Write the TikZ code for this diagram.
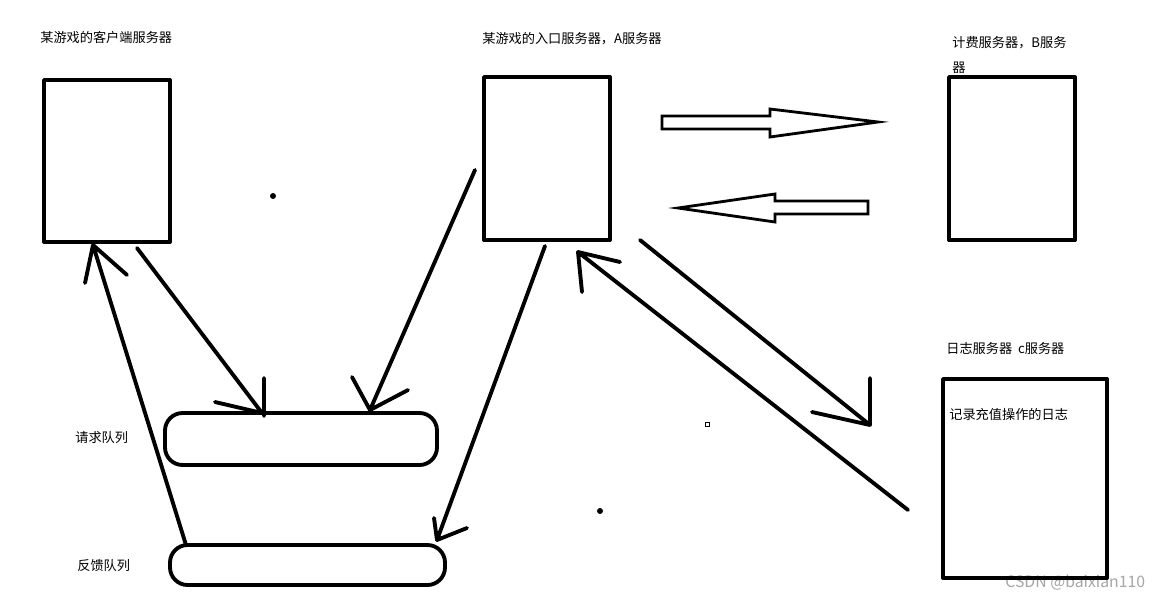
\documentclass[tikz,border=0pt]{standalone}
\usepackage{fontspec}
\setmainfont{Noto Sans CJK SC}
\begin{document}
\begin{tikzpicture}[x=0.02cm,y=-0.02cm,
  thk/.style={line width=2.2pt,line cap=round,line join=round},
  box/.style={thk},
  lbl/.style={anchor=west,inner sep=0pt,font=\fontsize{7.5pt}{9pt}\selectfont},
  hol/.style={line width=1.6pt,line join=miter}]
\useasboundingbox (0,0) rectangle (1162,599);
\fill[white] (0,0) rectangle (1162,599);
\node[lbl] (t1) at (40,37) {某游戏的客户端服务器};
\node[lbl] (t2) at (482,39) {某游戏的入口服务器，A服务器};
\node[lbl] (t3) at (952,43) {计费服务器，B服务};
\node[lbl] (t3b) at (952,68) {器};
\node[lbl] (t4) at (946,348) {日志服务器~ c服务器};
\node[lbl] (t5) at (949,414) {记录充值操作的日志};
\node[lbl] (t6) at (75,438) {请求队列};
\node[lbl] (t7) at (77,566) {反馈队列};
\node[lbl,text=gray!70,font=\fontsize{9pt}{10pt}\selectfont] (wm) at (1005,583) {CSDN @baixian110};
\draw[box] (44,80) rectangle (170,242);
\draw[box] (484,77) rectangle (610,240);
\draw[box] (949,77) rectangle (1075,240);
\draw[box] (943,379) rectangle (1107,578);
\draw[box,rounded corners=10] (165,413) rectangle (437,465);
\draw[box,rounded corners=10] (170,545) rectangle (445,585);
% hollow arrows
\draw[hol] (662,116) -- (770,116) -- (770,109) -- (878,122) -- (770,137) -- (770,129) -- (662,129) -- cycle;
\draw[hol] (868,201) -- (775,201) -- (775,194) -- (678,208) -- (775,222) -- (775,214) -- (868,214) -- cycle;
% dots
\fill (273,196) circle (3);
\fill (600,511) circle (3);
\draw[line width=0.5pt] (705,422) rectangle (709,426);
% line arrows
\coordinate (a1s) at (137,248); \coordinate (a1e) at (262,413);
\draw[thk] (a1s) -- (a1e) (264,378) -- (264,416) (215,402) -- (a1e);
\coordinate (a2s) at (475,170); \coordinate (a2e) at (370,410);
\draw[thk] (a2s) -- (a2e) (352,377) -- (a2e) (408,390) -- (a2e);
\coordinate (a3s) at (545,246); \coordinate (a3e) at (437,540);
\draw[thk] (a3s) -- (a3e) (434,518) -- (a3e) (467,528) -- (a3e);
\coordinate (a4s) at (186,545); \coordinate (a4e) at (93,245);
\draw[thk] (a4s) -- (a4e) (85,283) -- (a4e) (127,275) -- (a4e);
\coordinate (a5s) at (640,240); \coordinate (a5e) at (870,425);
\draw[thk] (a5s) -- (a5e) (870,378) -- (a5e) (812,412) -- (a5e);
\coordinate (a6s) at (908,510); \coordinate (a6e) at (578,252);
\draw[thk] (a6s) -- (a6e) (582,292) -- (a6e) (620,262) -- (a6e);
\end{tikzpicture}
\end{document}
